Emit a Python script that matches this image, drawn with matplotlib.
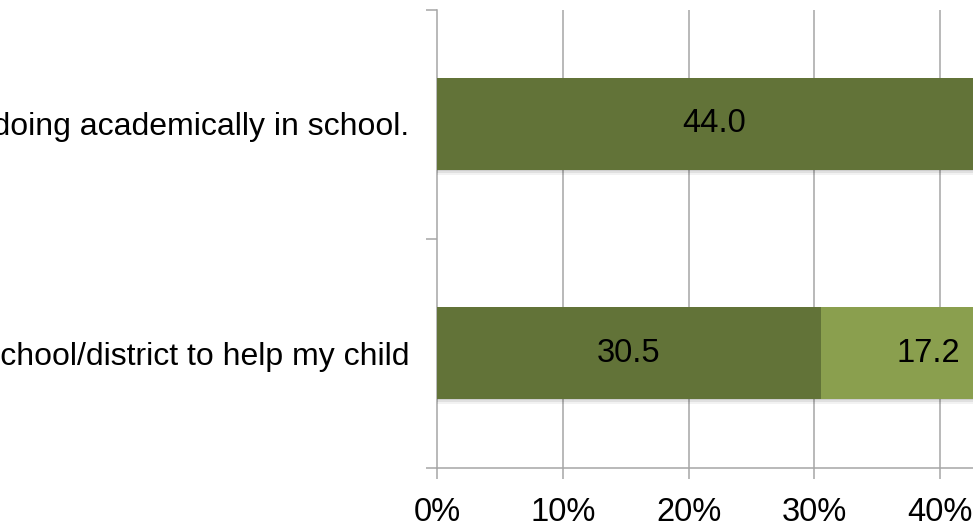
import matplotlib
matplotlib.use("Agg")
import matplotlib.pyplot as plt
import matplotlib.patheffects as pe
import numpy as np

plt.rcParams['font.family'] = ['Liberation Sans', 'DejaVu Sans']

categories = ["I know how my child is doing academically in school.",
              "I work with my child's school/district to help my child"]
series_dark = [44.0, 30.5]
series_light = [0.0, 17.2]
xticks = [0, 10, 20, 30, 40]
xtick_labels = [f"{v}%" for v in xticks]

dark = "#627338"
light = "#8A9F4E"
grid_c = "#A6A6A6"
fs = 23.5

W, H = 973, 531
fig = plt.figure(figsize=(W / 100, H / 100), dpi=100)
ax = fig.add_axes([437 / W, 63.5 / H, 1257.5 / W, 458 / H])

y = np.arange(len(categories)) + 0.5
shadow = [pe.SimplePatchShadow(offset=(0, -4), shadow_rgbFace="#000000", alpha=0.05),
          pe.SimplePatchShadow(offset=(0, -2.5), shadow_rgbFace="#000000", alpha=0.07),
          pe.SimplePatchShadow(offset=(0, -1.2), shadow_rgbFace="#000000", alpha=0.08),
          pe.Normal()]
b1 = ax.barh(y, series_dark, height=0.4, color=dark, zorder=3)
b2 = ax.barh(y, series_light, left=series_dark, height=0.4, color=light, zorder=3)
for b in list(b1) + list(b2):
    b.set_path_effects(shadow)

for yi, d, l in zip(y, series_dark, series_light):
    if d > 0:
        ax.text(d / 2, yi, f"{d:.1f}", ha="center", va="center", fontsize=fs, color="black", zorder=4)
    if l > 0:
        ax.text(d + l / 2, yi, f"{l:.1f}", ha="center", va="center", fontsize=fs, color="black", zorder=4)

ax.set_xlim(0, 100)
ax.set_ylim(2, 0)
ax.set_xticks(xticks)
ax.set_xticklabels(xtick_labels, fontsize=fs)
ax.tick_params(axis="x", direction="out", length=8, width=1.1, color=grid_c, pad=13)
for gx in range(10, 101, 10):
    ax.axvline(gx, color=grid_c, linewidth=1.1, zorder=0)

ax.set_yticks([0, 1, 2])
ax.set_yticklabels([])
ax.set_yticks(y, minor=True)
ax.set_yticklabels(categories, minor=True, fontsize=23)
ax.tick_params(axis="y", which="major", direction="out", length=8, width=1.1, color=grid_c)
ax.tick_params(axis="y", which="minor", length=0, pad=20)

for s in ["top", "right"]:
    ax.spines[s].set_visible(False)
for s in ["left", "bottom"]:
    ax.spines[s].set_color(grid_c)
    ax.spines[s].set_linewidth(1.1)
ax.set_axisbelow(True)

fig.savefig("out.png", dpi=100)
